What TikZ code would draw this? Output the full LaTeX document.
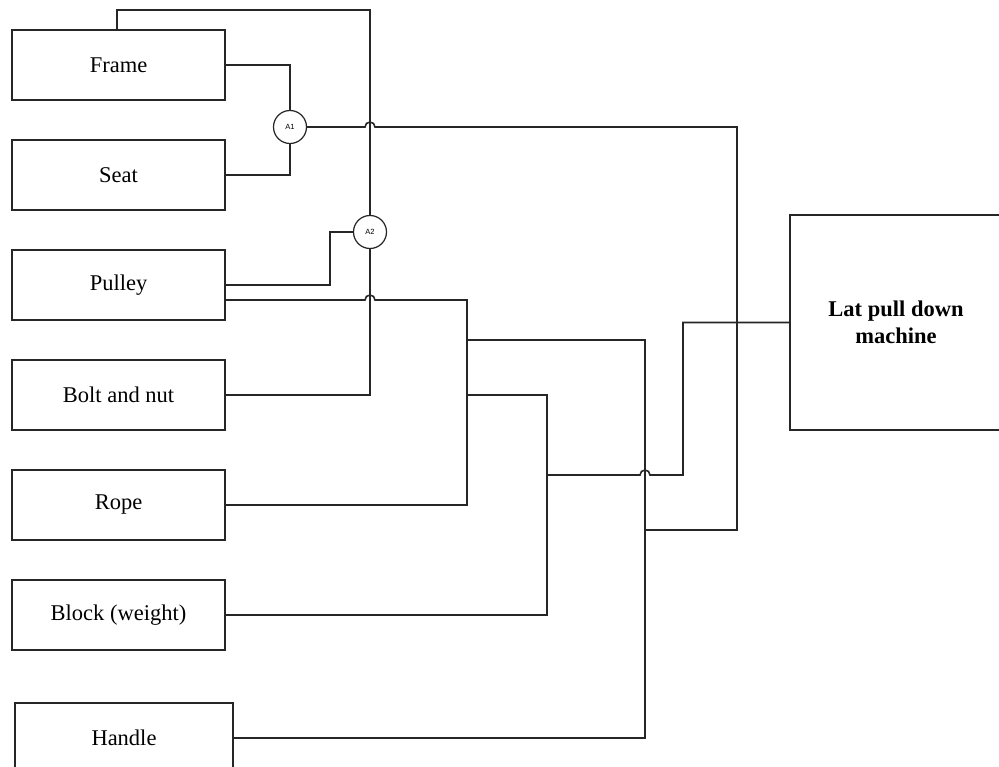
\documentclass[tikz,border=0pt]{standalone}
\usepackage{fontspec}
\setmainfont{Liberation Serif}
\newfontfamily\smallsans{Liberation Sans}
\begin{document}
\begin{tikzpicture}[x=1pt,y=-1pt,
  part/.style={draw=black!85,line width=1.3pt,minimum width=213pt,minimum height=70pt,inner sep=0pt,font=\fontsize{22.5}{26}\selectfont},
  joint/.style={draw=black!85,line width=1.2pt,circle,minimum size=33pt,inner sep=0pt,font=\smallsans\fontsize{7.5}{8}\selectfont},
  wire/.style={draw=black!85,line width=1.6pt}]
\useasboundingbox (0,0) rectangle (999,767);
\clip (0,0) rectangle (999,767);
\fill[white] (0,0) rectangle (999,767);
\node[part] (frame) at (118.5,65) {Frame};
\node[part] (seat) at (118.5,175) {Seat};
\node[part] (pulley) at (118.5,285) {Pulley};
\node[part] (bolt) at (118.5,395) {Bolt and nut};
\node[part] (rope) at (118.5,505) {Rope};
\node[part] (block) at (118.5,615) {Block (weight)};
\node[part,minimum width=218pt] (handle) at (124,738) {Handle};
\node[part,minimum width=212pt,minimum height=215pt,align=center,font=\bfseries\fontsize{22.5}{27}\selectfont] (machine) at (896,322.5) {Lat pull down\\machine};
\node[joint] (a1) at (290,127) {A1};
\node[joint] (a2) at (370,232) {A2};
% connectors
\draw[wire] (frame.north -| 117,0) -- (117,10) -- (370,10) -- (a2.north);
\draw[wire] (frame.east) -| (a1.north);
\draw[wire] (seat.east) -| (a1.south);
\draw[wire] (a1.east) -- (365,127) arc[start angle=180,end angle=0,radius=5pt] -- (737,127) -- (737,530) -- (645,530);
\draw[wire] (pulley.east) -- (330,285) -- (330,232) -- (a2.west);
\draw[wire] (a2.south) |- (bolt.east);
\draw[wire] (225,300) -- (365,300) arc[start angle=180,end angle=0,radius=5pt] -- (467,300) -- (467,505) -- (rope.east);
\draw[wire] (467,340) -- (645,340) -- (645,738) -- (handle.east);
\draw[wire] (467,395) -- (547,395) -- (547,615) -- (block.east);
\draw[wire] (547,475) -- (640,475) arc[start angle=180,end angle=0,radius=5pt] -- (683,475) -- (683,322.5) -- (machine.west);
\end{tikzpicture}
\end{document}
